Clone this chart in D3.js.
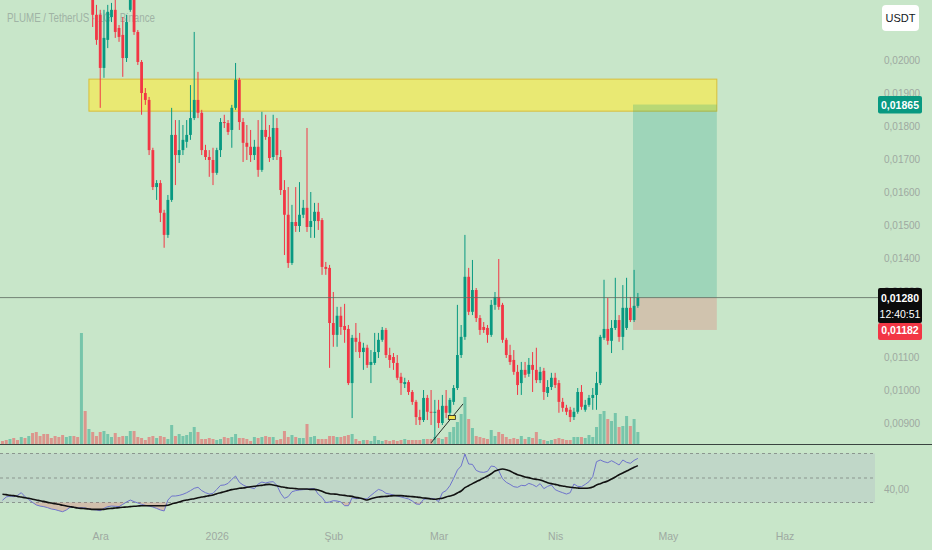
<!DOCTYPE html>
<html>
<head>
<meta charset="utf-8">
<script src="https://cdn.jsdelivr.net/npm/d3@7/dist/d3.min.js"></script>
<style>
  html, body { margin: 0; padding: 0; background: #c8e6c9; }
  svg { display: block; font-family: 'Liberation Sans', Arial, sans-serif; }
</style>
</head>
<body>
<div class="chart"></div>
<script>
// daily candles, first one on 29 Nov 2025
var firstCandle = new Date(Date.UTC(2025, 10, 29));
// volume + RSI start earlier (candles before 29 Nov sit above the visible price range)
var firstIndicator = new Date(Date.UTC(2025, 10, 5));

var open = [0.02243,0.02137,0.02137,0.01976,0.02061,0.02130,0.02152,0.02097,0.02076,0.02006,
  0.02152,0.02182,0.02085,0.01994,0.01900,0.01879,0.01727,0.01615,0.01627,0.01537,
  0.01470,0.01576,0.01773,0.01712,0.01727,0.01752,0.01773,0.01824,0.01879,0.01840,
  0.01727,0.01706,0.01697,0.01658,0.01727,0.01812,0.01809,0.01788,0.01855,0.01940,
  0.01812,0.01749,0.01737,0.01712,0.01737,0.01667,0.01788,0.01767,0.01706,0.01794,
  0.01706,0.01606,0.01531,0.01385,0.01509,0.01497,0.01531,0.01552,0.01494,0.01512,
  0.01540,0.01515,0.01373,0.01370,0.01203,0.01167,0.01225,0.01194,0.01185,0.01021,
  0.01158,0.01146,0.01115,0.01128,0.01076,0.01082,0.01115,0.01152,0.01182,0.01106,
  0.01100,0.01082,0.01040,0.01018,0.01024,0.00994,0.00964,0.00918,0.00909,0.00976,
  0.00934,0.00931,0.00940,0.00900,0.00952,0.00931,0.00964,0.01006,0.01106,0.01161,
  0.01343,0.01237,0.01303,0.01218,0.01191,0.01188,0.01167,0.01258,0.01282,0.01258,
  0.01152,0.01106,0.01091,0.01055,0.01021,0.01061,0.01049,0.01076,0.01061,0.01030,
  0.01058,0.00991,0.01009,0.01037,0.01021,0.00964,0.00946,0.00940,0.00918,0.00934,
  0.00994,0.00940,0.00955,0.00976,0.00985,0.01021,0.01158,0.01185,0.01149,0.01188,
  0.01212,0.01161,0.01188,0.01249,0.01212,0.01255];

var high = [0.02273,0.02167,0.02152,0.02152,0.02167,0.02173,0.02182,0.02106,0.02130,0.02137,
  0.02197,0.02191,0.02091,0.02000,0.01915,0.01888,0.01734,0.01636,0.01636,0.01546,
  0.01591,0.01855,0.01818,0.01818,0.01803,0.01818,0.01924,0.02085,0.01964,0.01849,
  0.01743,0.01727,0.01734,0.01734,0.01824,0.01834,0.01818,0.01864,0.01991,0.01946,
  0.01824,0.01803,0.01788,0.01758,0.01818,0.01843,0.01834,0.01803,0.01834,0.01824,
  0.01727,0.01636,0.01615,0.01561,0.01615,0.01630,0.01576,0.01794,0.01600,0.01567,
  0.01567,0.01521,0.01388,0.01379,0.01297,0.01252,0.01252,0.01261,0.01197,0.01167,
  0.01203,0.01173,0.01143,0.01137,0.01121,0.01173,0.01173,0.01191,0.01188,0.01128,
  0.01112,0.01106,0.01052,0.01037,0.01030,0.01000,0.00970,0.00940,0.01000,0.00985,
  0.01000,0.00970,0.00970,0.00985,0.01000,0.00976,0.01015,0.01258,0.01197,0.01470,
  0.01370,0.01394,0.01309,0.01227,0.01206,0.01197,0.01273,0.01297,0.01397,0.01264,
  0.01158,0.01137,0.01121,0.01076,0.01085,0.01085,0.01097,0.01115,0.01128,0.01070,
  0.01067,0.01030,0.01052,0.01052,0.01030,0.00976,0.00955,0.00949,0.00946,0.01006,
  0.01015,0.00970,0.00985,0.01006,0.01055,0.01167,0.01334,0.01279,0.01212,0.01340,
  0.01227,0.01318,0.01340,0.01282,0.01364,0.01294];

var low = [0.02100,0.02046,0.01855,0.01946,0.02036,0.02115,0.02067,0.02055,0.01949,0.01994,
  0.02146,0.02076,0.01985,0.01834,0.01864,0.01712,0.01606,0.01576,0.01509,0.01431,
  0.01461,0.01570,0.01621,0.01688,0.01712,0.01734,0.01758,0.01818,0.01824,0.01712,
  0.01697,0.01646,0.01621,0.01652,0.01706,0.01794,0.01773,0.01734,0.01849,0.01788,
  0.01691,0.01697,0.01691,0.01697,0.01646,0.01661,0.01758,0.01691,0.01697,0.01697,
  0.01591,0.01409,0.01370,0.01379,0.01479,0.01479,0.01521,0.01479,0.01461,0.01461,
  0.01485,0.01349,0.01349,0.01067,0.01131,0.01131,0.01167,0.01143,0.01015,0.00915,
  0.01115,0.01097,0.01061,0.01067,0.01021,0.01076,0.01097,0.01146,0.01097,0.01067,
  0.01061,0.01030,0.00985,0.01006,0.00985,0.00955,0.00894,0.00894,0.00903,0.00909,
  0.00894,0.00849,0.00885,0.00894,0.00915,0.00921,0.00955,0.01000,0.01097,0.01152,
  0.01227,0.01227,0.01206,0.01167,0.01173,0.01143,0.01161,0.01243,0.01243,0.01143,
  0.01097,0.01076,0.01046,0.00985,0.00985,0.01037,0.01040,0.00994,0.01021,0.01021,
  0.00970,0.00979,0.01000,0.01006,0.00931,0.00934,0.00924,0.00903,0.00909,0.00928,
  0.00940,0.00934,0.00949,0.00940,0.00940,0.01015,0.01152,0.01137,0.01112,0.01182,
  0.01146,0.01121,0.01182,0.01206,0.01206,0.01249];

var close = [0.02137,0.02061,0.01976,0.02067,0.02146,0.02152,0.02085,0.02070,0.02006,0.02115,
  0.02182,0.02085,0.01994,0.01900,0.01879,0.01727,0.01615,0.01627,0.01537,0.01470,
  0.01576,0.01773,0.01712,0.01727,0.01758,0.01773,0.01824,0.01879,0.01840,0.01727,
  0.01706,0.01697,0.01658,0.01727,0.01812,0.01809,0.01782,0.01855,0.01940,0.01812,
  0.01749,0.01737,0.01712,0.01737,0.01667,0.01788,0.01767,0.01703,0.01794,0.01712,
  0.01606,0.01531,0.01385,0.01509,0.01497,0.01531,0.01552,0.01494,0.01512,0.01540,
  0.01512,0.01373,0.01367,0.01203,0.01167,0.01225,0.01191,0.01182,0.01021,0.01158,
  0.01146,0.01115,0.01128,0.01076,0.01085,0.01115,0.01152,0.01182,0.01106,0.01091,
  0.01082,0.01037,0.01021,0.01024,0.00994,0.00964,0.00918,0.00909,0.00976,0.00934,
  0.00931,0.00934,0.00900,0.00952,0.00931,0.00970,0.01006,0.01106,0.01161,0.01343,
  0.01237,0.01303,0.01218,0.01182,0.01182,0.01167,0.01258,0.01282,0.01252,0.01152,
  0.01106,0.01085,0.01055,0.01015,0.01061,0.01046,0.01076,0.01061,0.01030,0.01055,
  0.00994,0.01009,0.01037,0.01015,0.00964,0.00946,0.00934,0.00918,0.00934,0.00994,
  0.00949,0.00955,0.00976,0.00985,0.01021,0.01161,0.01185,0.01149,0.01188,0.01212,
  0.01161,0.01249,0.01249,0.01212,0.01255,0.01280];

// volume from 5 Nov (millions)
var volume = [3,4,5,6,4,7,6,8,11,12,8,10,10,6,8,7,9,7,8,8,7,111,33,15,
  12,8,12,13,10,7,11,7,8,8,13,13,7,6,4,7,8,6,8,7,5,19,8,10,8,9,12,17,12,5,
  5,6,5,4,5,7,6,7,10,6,6,5,3,7,6,7,8,7,7,4,5,13,7,
  9,7,6,6,20,7,8,5,5,5,8,8,7,7,8,9,10,5,3,4,4,3,8,4,3,4,3,4,3,4,5,4,4,4,4,5,5,5,7,6,
  5,7,12,17,22,30,47,25,16,8,7,6,5,14,8,12,10,7,5,6,5,8,5,7,6,12,5,4,3,4,
  5,6,5,4,4,7,7,7,6,9,7,17,30,33,25,23,31,17,18,28,18,25,12];
// up/down of the days before the first visible candle
var earlyUp = [0,0,1,0,0,1,0,1,0,0,0,0,0,0,0,0,0,1,1,0,0,1,0,1];

// RSI(14) and its moving average, from 5 Nov
var rsi = [31.8,34.5,35.3,34.8,35.8,38.0,34.8,32.3,30.1,28.0,
  27.1,26.6,25.8,24.7,24.2,23.3,22.5,23.9,26.1,26.1,
  25.5,25.8,25.5,24.7,24.2,23.9,23.3,25.2,26.6,27.1,
  26.9,26.6,28.5,30.4,32.0,30.7,29.6,28.5,27.7,27.1,
  26.3,25.2,23.9,23.1,32.0,35.3,35.3,35.8,36.7,38.0,
  39.7,41.6,42.4,39.7,38.0,36.9,37.5,40.7,44.0,44.3,
  45.6,48.9,51.6,46.5,44.3,42.9,42.1,41.3,45.1,46.7,
  45.9,46.7,47.0,44.0,37.5,33.4,34.8,38.8,39.7,40.2,
  40.5,40.7,41.3,41.3,36.7,34.2,29.9,30.4,31.5,31.2,
  30.4,27.4,27.4,33.9,33.1,33.4,32.9,33.1,35.8,38.3,
  40.7,39.7,37.5,36.9,36.1,35.3,34.5,33.7,32.9,31.2,
  28.8,28.5,32.6,33.1,33.4,32.9,30.7,38.0,39.7,43.7,
  49.7,56.5,59.8,69.6,61.4,61.1,56.2,54.9,54.6,55.4,
  59.8,59.2,56.0,49.4,46.5,44.8,42.9,42.4,44.0,43.7,
  45.6,44.6,42.9,45.4,41.3,43.2,44.3,40.5,39.1,38.0,
  36.9,38.0,45.1,43.2,42.9,44.8,47.0,51.1,63.3,64.7,
  63.3,62.5,64.1,62.5,60.6,64.7,62.8,62.0,64.4,66.0];

var rsiMa = [36.7,36.4,35.8,35.6,35.0,34.5,33.9,33.4,32.6,32.0,
  31.5,30.9,30.1,29.6,29.0,28.5,27.7,27.1,26.6,26.1,
  25.5,25.2,25.0,24.7,24.4,24.4,24.4,24.4,25.0,25.2,
  25.5,25.8,26.1,26.3,26.6,26.9,27.1,27.4,27.4,27.4,
  27.4,27.4,27.4,27.4,27.7,28.8,29.6,30.4,31.5,32.0,
  32.6,33.1,33.9,34.5,35.0,35.6,36.1,37.2,38.0,38.8,
  39.7,40.5,41.0,41.6,41.8,42.4,42.9,43.2,43.7,44.0,
  44.6,44.8,44.3,43.7,42.9,42.4,41.8,41.6,41.3,41.0,
  41.0,41.0,40.7,40.7,40.2,39.1,37.8,37.2,36.9,36.7,
  36.1,35.8,35.3,35.0,34.2,33.7,32.9,32.0,33.1,33.9,
  34.5,34.8,35.0,35.3,35.6,35.6,35.6,35.3,35.0,34.8,
  34.5,34.2,33.7,33.4,32.9,32.6,33.1,33.4,34.5,35.3,
  36.1,37.8,39.4,42.1,43.7,45.4,47.0,48.4,50.0,51.6,
  53.5,55.7,56.8,57.3,56.8,55.7,54.1,52.7,51.9,50.8,
  50.3,49.4,48.9,48.4,47.3,46.2,45.4,44.8,44.0,43.5,
  42.9,42.4,42.1,41.8,41.6,41.6,41.8,42.6,44.3,45.4,
  46.5,47.5,49.2,50.8,52.7,54.1,55.7,57.1,58.7,60.1];

// 0,01200 sits fully under the stop label, so it is not listed
var priceTicks = [0.009,0.010,0.011,0.013,0.014,0.015,0.016,0.017,0.018,0.019,0.020];
var monthDates = [new Date(Date.UTC(2025,11,1)), new Date(Date.UTC(2026,0,1)), new Date(Date.UTC(2026,1,1)),
  new Date(Date.UTC(2026,2,1)), new Date(Date.UTC(2026,3,1)), new Date(Date.UTC(2026,4,1)), new Date(Date.UTC(2026,5,1))];
var monthLabels = ['Ara', '2026', 'Şub', 'Mar', 'Nis', 'May', 'Haz'];
var rsiLevels = [70, 50, 30];

// drawings on the chart
var zoneDates = [new Date(Date.UTC(2025,10,28)), new Date(Date.UTC(2026,4,14))];
var zonePrices = [0.01845, 0.01942];
var positionDates = [new Date(Date.UTC(2026,3,21,17)), new Date(Date.UTC(2026,4,14))];
var targetPrice = 0.01865, entryPrice = 0.01280, stopPrice = 0.01182;
var trendDates = [new Date(Date.UTC(2026,1,27)), new Date(Date.UTC(2026,2,7,12))];
var trendPrices = [0.00840, 0.00958];
var countdown = '12:40:51';

var width = 932, height = 550, paneRight = 875, paneBottom = 444;
var upColor = '#089981', downColor = '#f23645';
var textGray = '#9ea9a1';

var container = d3.select('.chart').append('svg').attr('width', width).attr('height', height);
container.append('rect').attr('width', width).attr('height', height).attr('fill', '#c8e6c9');

var defs = container.append('defs');
defs.append('clipPath').attr('id', 'mainClip').append('rect').attr('x', 0).attr('y', 0).attr('width', paneRight).attr('height', paneBottom);
defs.append('clipPath').attr('id', 'rsiClip').append('rect').attr('x', 0).attr('y', paneBottom + 1).attr('width', paneRight).attr('height', 100);

//scales
var x = d3.scaleUtc().domain([firstCandle, new Date(Date.UTC(2026, 5, 1))]).range([92.7, 784.5]);
var y = d3.scaleLinear().domain([0.009, 0.020]).range([423, 60]);
var yVol = d3.scaleLinear().domain([0, 111]).range([paneBottom, 333]);
var yRsi = d3.scaleLinear().domain([30, 70]).range([502.5, 453.5]);

var candles = open.map(function (o, i) {
  return { date: d3.utcDay.offset(firstCandle, i), o: o, h: high[i], l: low[i], c: close[i] };
});
var indDates = volume.map(function (v, i) { return d3.utcDay.offset(firstIndicator, i); });
var offset = d3.utcDay.count(firstIndicator, firstCandle);

var fmtPrice = function (d) { return d3.format('.5f')(d).replace('.', ','); };

var main = container.append('g').attr('clip-path', 'url(#mainClip)');

// title (candles are drawn over it)
main.append('text').attr('x', 7).attr('y', 22).attr('font-size', 13.5).attr('fill', '#a0b3a5')
  .attr('textLength', 148).attr('lengthAdjust', 'spacingAndGlyphs')
  .text('PLUME / TetherUS · 1G · Binance');

// yellow zone
main.append('rect')
  .attr('x', x(zoneDates[0])).attr('width', x(zoneDates[1]) - x(zoneDates[0]))
  .attr('y', y(zonePrices[1])).attr('height', y(zonePrices[0]) - y(zonePrices[1]))
  .attr('fill', 'rgba(255,235,59,0.6)').attr('stroke', '#d9be3a').attr('stroke-width', 1);

// long position tool
main.append('rect')
  .attr('x', x(positionDates[0])).attr('width', x(positionDates[1]) - x(positionDates[0]))
  .attr('y', y(targetPrice)).attr('height', y(entryPrice) - y(targetPrice))
  .attr('fill', 'rgba(8,153,129,0.22)');
main.append('rect')
  .attr('x', x(positionDates[0])).attr('width', x(positionDates[1]) - x(positionDates[0]))
  .attr('y', y(entryPrice)).attr('height', y(stopPrice) - y(entryPrice))
  .attr('fill', 'rgba(242,54,69,0.2)');

// volume bars
main.selectAll('rect.vol').data(volume).enter().append('rect').attr('class', 'vol')
  .attr('x', function (d, i) { return x(indDates[i]) - 1.5; })
  .attr('width', 3)
  .attr('y', function (d) { return yVol(d); })
  .attr('height', function (d) { return paneBottom - yVol(d); })
  .attr('fill', function (d, i) {
    var up = i < offset ? earlyUp[i] === 1 : close[i - offset] >= open[i - offset];
    return up ? 'rgba(8,153,129,0.42)' : 'rgba(242,54,69,0.45)';
  });

// candles
var candle = main.selectAll('g.candle').data(candles).enter().append('g').attr('class', 'candle');
candle.append('line')
  .attr('x1', function (d) { return x(d.date); }).attr('x2', function (d) { return x(d.date); })
  .attr('y1', function (d) { return y(d.h); }).attr('y2', function (d) { return y(d.l); })
  .attr('stroke', function (d) { return d.c >= d.o ? upColor : downColor; })
  .attr('stroke-width', 1);
candle.append('rect')
  .attr('x', function (d) { return x(d.date) - 1.4; })
  .attr('width', 2.8)
  .attr('y', function (d) { return y(Math.max(d.o, d.c)); })
  .attr('height', function (d) { return Math.max(1, Math.abs(y(d.o) - y(d.c))); })
  .attr('fill', function (d) { return d.c >= d.o ? upColor : downColor; });

// current price line
container.append('line').attr('x1', 0).attr('x2', 878)
  .attr('y1', y(entryPrice)).attr('y2', y(entryPrice))
  .attr('stroke', '#5f6d62').attr('stroke-width', 1).attr('opacity', 0.8);

// small trend line drawing with its marker
main.append('line')
  .attr('x1', x(trendDates[0])).attr('y1', y(trendPrices[0]))
  .attr('x2', x(trendDates[1])).attr('y2', y(trendPrices[1]))
  .attr('stroke', '#26302a').attr('stroke-width', 1);
var mid = d3.interpolateDate(trendDates[0], trendDates[1])(0.65);
main.append('rect')
  .attr('x', x(mid) - 3.5).attr('y', y(d3.interpolateNumber(trendPrices[0], trendPrices[1])(0.65)) - 2)
  .attr('width', 7).attr('height', 4)
  .attr('fill', '#f5e24a').attr('stroke', '#222').attr('stroke-width', 0.8);

// pane separator
container.append('line').attr('x1', 0).attr('x2', width).attr('y1', paneBottom + 0.5).attr('y2', paneBottom + 0.5)
  .attr('stroke', '#3a4440').attr('stroke-width', 1.2);

// RSI pane
var rsiG = container.append('g').attr('clip-path', 'url(#rsiClip)');
rsiG.append('rect').attr('x', 0).attr('width', paneRight)
  .attr('y', yRsi(70)).attr('height', yRsi(30) - yRsi(70))
  .attr('fill', 'rgba(126,87,194,0.1)');
rsiG.selectAll('line.level').data(rsiLevels).enter().append('line').attr('class', 'level')
  .attr('x1', 0).attr('x2', paneRight)
  .attr('y1', function (d) { return yRsi(d); }).attr('y2', function (d) { return yRsi(d); })
  .attr('stroke', '#8b968f').attr('stroke-width', 1).attr('stroke-dasharray', '3,3');

// oversold fill
var oversold = d3.area()
  .x(function (d, i) { return x(indDates[i]); })
  .y0(yRsi(30))
  .y1(function (d) { return yRsi(Math.min(d, 30)); });
rsiG.append('path').datum(rsi).attr('d', oversold).attr('fill', 'rgba(242,54,69,0.22)');

var rsiLine = d3.line().x(function (d, i) { return x(indDates[i]); }).y(function (d) { return yRsi(d); });
rsiG.append('path').datum(rsi).attr('d', rsiLine).attr('fill', 'none').attr('stroke', '#6f74cc').attr('stroke-width', 1);
rsiG.append('path').datum(rsiMa).attr('d', rsiLine.curve(d3.curveMonotoneX)).attr('fill', 'none').attr('stroke', '#111').attr('stroke-width', 1.6);

// price axis
var yAxis = d3.axisRight(y).tickValues(priceTicks).tickFormat(fmtPrice).tickSize(0).tickPadding(0);
var ySVG = container.append('g').attr('transform', 'translate(884,0)').call(yAxis);
ySVG.select('.domain').remove();
ySVG.selectAll('text').attr('fill', textGray).attr('font-size', 10).attr('font-family', null);

// RSI axis
container.append('text').attr('x', 884).attr('y', yRsi(40)).attr('dy', '0.32em')
  .attr('fill', textGray).attr('font-size', 10).text('40,00');

// time axis
var xAxis = d3.axisBottom(x).tickValues(monthDates).tickFormat(function (d, i) { return monthLabels[i]; })
  .tickSize(0).tickPadding(3);
var xSVG = container.append('g').attr('transform', 'translate(0,530)').call(xAxis);
xSVG.select('.domain').remove();
xSVG.selectAll('text').attr('fill', textGray).attr('font-size', 10.5).attr('font-family', null);

// price labels: box spans [top, bottom] around the price
function priceLabel(price, bg, top, bottom, lines) {
  var yy = y(price);
  container.append('rect').attr('x', 878).attr('y', yy - top).attr('width', 44).attr('height', top + bottom)
    .attr('rx', 2).attr('fill', bg);
  lines.forEach(function (t, j) {
    container.append('text').attr('x', 900).attr('y', yy + 4 + j * 16).attr('text-anchor', 'middle')
      .attr('fill', '#fff').attr('font-size', 10.5).attr('font-weight', j === 0 ? 'bold' : 'normal').text(t);
  });
}
priceLabel(targetPrice, '#089981', 8.5, 9, [fmtPrice(targetPrice)]);
priceLabel(entryPrice, '#0b0b0b', 9.5, 25.5, [fmtPrice(entryPrice), countdown]);
priceLabel(stopPrice, '#f23645', 7, 10, [fmtPrice(stopPrice)]);

// currency box
container.append('rect').attr('x', 882).attr('y', 5).attr('width', 37).attr('height', 26).attr('rx', 4).attr('fill', '#fff');
container.append('text').attr('x', 900.5).attr('y', 22).attr('text-anchor', 'middle')
  .attr('fill', '#131722').attr('font-size', 11).text('USDT');
</script>
</body>
</html>
